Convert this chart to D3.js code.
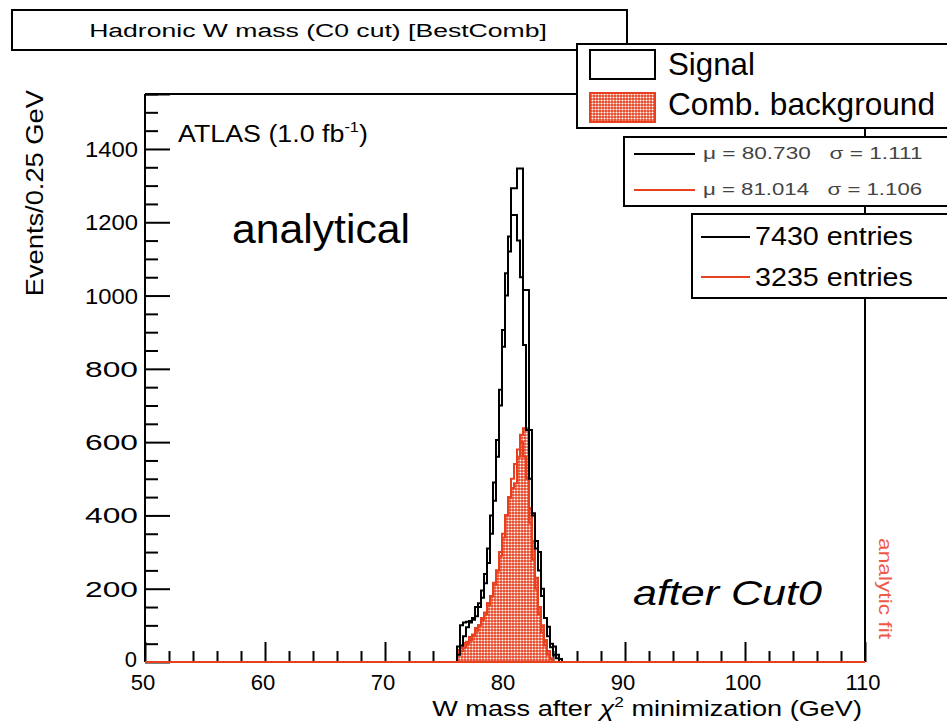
<!DOCTYPE html>
<html><head><meta charset="utf-8">
<script src="https://cdn.jsdelivr.net/npm/d3@7"></script>
<style>
html,body{margin:0;padding:0;background:#fff;}
svg{display:block;font-family:"Liberation Sans",Arial,Helvetica,sans-serif;}
</style></head>
<body>
<svg id="c" width="947" height="726"></svg>
<script>
// ---- data (0.25 GeV bins starting at 76.0 GeV) ----
const binStart = 76.0;
const binWidth = 0.25;
const signalHist = [42, 100, 108, 110, 112, 120, 150, 160, 195, 240, 310, 400, 490, 606, 743, 906,
                    1061, 1161, 1293, 1293, 1347, 1347, 1015, 1015, 633, 406, 330, 300, 200, 120, 96, 50, 42, 20, 8];
const signalFit  = [20, 45, 70, 95, 108, 115, 125, 150, 175, 215, 270, 350, 440, 560, 700, 860,
                    1000, 1120, 1220, 1220, 1150, 1050, 865, 633, 500, 400, 310, 250, 180, 120, 70, 40, 20, 10, 0];
const bkgHist    = [33, 40, 52, 55, 68, 75, 93, 100, 120, 130, 161, 180, 216, 250, 290, 340,
                    401, 448, 475, 488, 560, 620, 638, 638, 420, 330, 230, 150, 100, 60, 30, 10, 0, 0, 0];
const bkgFit     = [25, 30, 40, 50, 60, 70, 85, 100, 115, 135, 155, 180, 210, 250, 300, 350,
                    400, 450, 500, 540, 580, 600, 560, 500, 380, 280, 200, 130, 80, 45, 20, 8, 0, 0, 0];
const xTicks = [50, 60, 70, 80, 90, 100, 110];
const yTicks = [0, 200, 400, 600, 800, 1000, 1200, 1400];
const fitLabels = ["\u03bc = 80.730   \u03c3 = 1.111", "\u03bc = 81.014   \u03c3 = 1.106"];
const entryLabels = ["7430 entries", "3235 entries"];
const legendLabels = ["Signal", "Comb. background"];

const RED = "#e8401f";
const svg = d3.select("#c");
const L = 145, R = 865, T = 94, B = 662;
const x = d3.scaleLinear().domain([50, 110]).range([L, R]);
const y = d3.scaleLinear().domain([0, 1550]).range([B, T]);

// pattern
const defs = svg.append("defs");
const pat = defs.append("pattern").attr("id","dots").attr("patternUnits","userSpaceOnUse")
  .attr("width",3).attr("height",3);
pat.append("rect").attr("width",3).attr("height",3).attr("fill",RED);
pat.append("circle").attr("cx",1.5).attr("cy",1.5).attr("r",1.05).attr("fill","#fff");

// horizontally fit a text element to a target width about its anchor x
function fitW(t, target) {
  const bb = t.node().getBBox();
  const anchor = t.attr("text-anchor") || "start";
  const x0 = anchor === "end" ? bb.x + bb.width : anchor === "middle" ? bb.x + bb.width/2 : bb.x;
  const s = target / bb.width;
  t.attr("transform", `translate(${x0},0) scale(${s},1) translate(${-x0},0)`);
  return t;
}
function txt(g, s, xx, yy, size, opts={}) {
  const t = g.append("text").attr("x", xx).attr("y", yy).attr("font-size", size).text(s)
    .attr("fill", opts.fill || "#000");
  if (opts.anchor) t.attr("text-anchor", opts.anchor);
  if (opts.style) t.attr("font-style", opts.style);
  if (opts.w) fitW(t, opts.w);
  return t;
}

// frame
const frame = svg.append("g").attr("stroke","#000").attr("stroke-width",2);
frame.append("line").attr("x1",L).attr("x2",L).attr("y1",T).attr("y2",B);
frame.append("line").attr("x1",L).attr("x2",R).attr("y1",T).attr("y2",T);
frame.append("line").attr("x1",R).attr("x2",R).attr("y1",T).attr("y2",B);
frame.append("line").attr("x1",L).attr("x2",R).attr("y1",B).attr("y2",B);

// y axis ticks
const yAxis = d3.axisRight(y).tickValues(yTicks.concat([1550])).tickSize(25).tickFormat("");
svg.append("g").attr("transform",`translate(${L},0)`).call(yAxis)
  .call(g=>g.select(".domain").remove()).selectAll("line").attr("stroke","#000").attr("stroke-width",2);
const yMinor = d3.axisRight(y).tickValues(d3.range(0,1551,50).filter(v=>v%200!==0)).tickSize(13).tickFormat("");
svg.append("g").attr("transform",`translate(${L},0)`).call(yMinor)
  .call(g=>g.select(".domain").remove()).selectAll("line").attr("stroke","#000").attr("stroke-width",2);
yTicks.forEach(v => { if (v>0) txt(svg, v, L-7, y(v)+8, 22, {anchor:"end", w:53}); });
txt(svg, "0", L-8, B+5, 22, {anchor:"end"});

// x axis ticks
const xAxis = d3.axisTop(x).tickValues(xTicks).tickSize(20).tickFormat("");
svg.append("g").attr("transform",`translate(0,${B})`).call(xAxis)
  .call(g=>g.select(".domain").remove()).selectAll("line").attr("stroke","#000").attr("stroke-width",2);
const xMinor = d3.axisTop(x).tickValues(d3.range(52,110,2).filter(v=>v%10!==0)).tickSize(11).tickFormat("");
svg.append("g").attr("transform",`translate(0,${B})`).call(xMinor)
  .call(g=>g.select(".domain").remove()).selectAll("line").attr("stroke","#000").attr("stroke-width",2);
xTicks.forEach(v => txt(svg, v, x(v)-2, 690, 22, {anchor:"middle"}));

// histograms
function stepPath(vals) {
  let p = `M${x(binStart)},${y(0)}`;
  vals.forEach((v,i) => {
    const x0 = x(binStart + i*binWidth), x1 = x(binStart + (i+1)*binWidth);
    p += `L${x0},${y(v)}L${x1},${y(v)}`;
  });
  p += `L${x(binStart + vals.length*binWidth)},${y(0)}`;
  return p;
}
const plot = svg.append("g");
plot.append("path").attr("d", stepPath(bkgHist)+"Z").attr("fill","url(#dots)").attr("stroke",RED).attr("stroke-width",2);
plot.append("path").attr("d", stepPath(bkgFit)).attr("fill","none").attr("stroke",RED).attr("stroke-width",2);
plot.append("path").attr("d", stepPath(signalFit)).attr("fill","none").attr("stroke","#000").attr("stroke-width",2);
plot.append("path").attr("d", stepPath(signalHist)).attr("fill","none").attr("stroke","#000").attr("stroke-width",2);
plot.append("line").attr("x1",L).attr("x2",R).attr("y1",B).attr("y2",B).attr("stroke",RED).attr("stroke-width",2);

// axis titles
const yt = svg.append("g").attr("transform","translate(43,90) rotate(-90)");
const ytt = txt(yt, "Events/0.25 GeV", 0, 0, 23, {anchor:"end", w:207});
const xt = svg.append("text").attr("x",862).attr("y",716).attr("text-anchor","end").attr("font-size",22);
xt.append("tspan").text("W mass after ");
xt.append("tspan").text("\u03c7").attr("font-style","italic");
xt.append("tspan").text("2").attr("font-size",14).attr("dy",-9);
xt.append("tspan").text(" minimization (GeV)").attr("dy",9);
fitW(xt, 430);

// annotations
const at = svg.append("text").attr("x",178).attr("y",142).attr("font-size",23);
at.append("tspan").text("ATLAS (1.0 fb");
at.append("tspan").text("-1").attr("font-size",14).attr("dy",-10);
at.append("tspan").text(")").attr("dy",10);
fitW(at, 190);
txt(svg, "analytical", 232, 243, 40, {w:178});
txt(svg, "after Cut0", 633, 605, 36, {style:"italic", w:189});
const af = svg.append("g").attr("transform","translate(879,538) rotate(90)");
txt(af, "analytic fit", 0, 0, 19, {fill:"#ee5a4a", w:102});

// title box
svg.append("rect").attr("x",12).attr("y",10).attr("width",615).attr("height",40).attr("fill","#fff").attr("stroke","#000").attr("stroke-width",2);
txt(svg, "Hadronic W mass (C0 cut) [BestComb]", 318, 37, 19, {anchor:"middle", w:458});

// legend 1
svg.append("rect").attr("x",577).attr("y",44).attr("width",380).attr("height",84).attr("fill","#fff").attr("stroke","#000").attr("stroke-width",2);
svg.append("rect").attr("x",590).attr("y",50).attr("width",65).attr("height",29).attr("fill","#fff").attr("stroke","#000").attr("stroke-width",2);
svg.append("rect").attr("x",590).attr("y",93).attr("width",65).attr("height",29).attr("fill","url(#dots)").attr("stroke",RED).attr("stroke-width",2);
txt(svg, legendLabels[0], 668, 75, 31, {w:87});
txt(svg, legendLabels[1], 668, 115, 31, {w:267});

// legend 2
svg.append("rect").attr("x",624).attr("y",137).attr("width",340).attr("height",69).attr("fill","#fff").attr("stroke","#000").attr("stroke-width",2);
[["#000",154,159],[RED,190,195]].forEach((d,i)=>{
  svg.append("line").attr("x1",634).attr("x2",695).attr("y1",d[1]).attr("y2",d[1]).attr("stroke",d[0]).attr("stroke-width",2);
  txt(svg, fitLabels[i], 703, d[2], 17, {fill:"#444", w:207}).style("white-space","pre");
});

// legend 3
svg.append("rect").attr("x",692).attr("y",214).attr("width",270).attr("height",84).attr("fill","#fff").attr("stroke","#000").attr("stroke-width",2);
[["#000",237,245],[RED,277,286]].forEach((d,i)=>{
  svg.append("line").attr("x1",701).attr("x2",750).attr("y1",d[1]).attr("y2",d[1]).attr("stroke",d[0]).attr("stroke-width",2);
  txt(svg, entryLabels[i], 755, d[2], 25, {w:158});
});
</script>
</body></html>
